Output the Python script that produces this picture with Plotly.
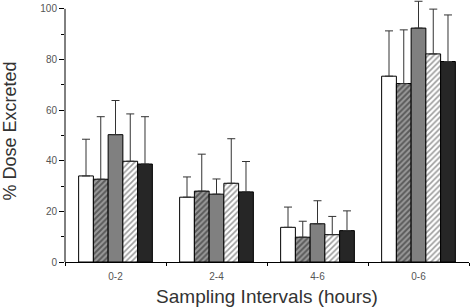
import plotly.graph_objects as go

categories = ["0-2", "2-4", "4-6", "0-6"]
series_names = ["A", "B", "C", "D", "E"]
means = [
    [34.0, 25.6, 13.7, 73.4],
    [32.7, 28.0, 9.8, 70.5],
    [50.3, 26.8, 15.1, 92.4],
    [39.8, 31.1, 10.8, 82.2],
    [38.7, 27.7, 12.4, 79.2],
]
upper = [
    [48.5, 33.6, 21.7, 91.3],
    [57.4, 42.6, 16.1, 91.7],
    [63.8, 32.8, 24.2, 103.0],
    [58.5, 48.7, 18.0, 99.9],
    [57.4, 39.7, 20.2, 97.6],
]

styles = [
    dict(color="white", pattern=None),
    dict(color="#555555", pattern=dict(shape="/", fgcolor="#1a1a1a", bgcolor="#9a9a9a", size=4, solidity=0.5)),
    dict(color="#808080", pattern=None),
    dict(color="white", pattern=dict(shape="/", fgcolor="#3a3a3a", bgcolor="white", size=4, solidity=0.4)),
    dict(color="#262626", pattern=None),
]

fig = go.Figure()
for name, m, u, st in zip(series_names, means, upper, styles):
    marker = dict(color=st["color"], line=dict(color="black", width=1))
    if st["pattern"]:
        marker["pattern"] = st["pattern"]
    fig.add_trace(go.Bar(
        x=categories, y=m, name=name, marker=marker,
        error_y=dict(type="data", symmetric=False,
                     array=[uu - mm for uu, mm in zip(u, m)],
                     arrayminus=[0] * len(m),
                     color="#333333", thickness=1, width=4),
    ))

fig.update_layout(
    width=471, height=307,
    margin=dict(l=65, r=2, t=0, b=45),
    barmode="group", bargap=0.27, bargroupgap=0,
    plot_bgcolor="white", paper_bgcolor="white",
    showlegend=False,
    font=dict(family="Liberation Sans, Arial, sans-serif", color="#333333"),
    shapes=[dict(type="line", xref="paper", yref="y", x0=0, x1=0, y0=0, y1=100,
                 line=dict(color="black", width=1))],
)
fig.update_yaxes(
    range=[0, 103.5], tickvals=[0, 20, 40, 60, 80, 100], automargin=False,
    ticks="outside", ticklen=5, tickcolor="black",
    minor=dict(tickvals=[10, 30, 50, 70, 90], ticks="outside", ticklen=3, tickcolor="black"),
    showline=False, showgrid=False, zeroline=False,
    tickfont=dict(size=10, color="#555555"),
    title=dict(text="% Dose Excreted", font=dict(size=18, color="#333333"), standoff=20),
)
fig.update_xaxes(
    range=[-0.5, 3.5], tickson="boundaries", ticks="outside", ticklen=3, tickcolor="black",
    automargin=False, ticklabelstandoff=5,
    showline=True, linecolor="black", linewidth=1, showgrid=False,
    tickfont=dict(size=10, color="#555555"),
    title=dict(text="Sampling Intervals (hours)", font=dict(size=19, color="#333333"), standoff=8),
)
fig.write_html("out.html", config={"displayModeBar": False},
               post_script="document.body.style.margin='0';")
